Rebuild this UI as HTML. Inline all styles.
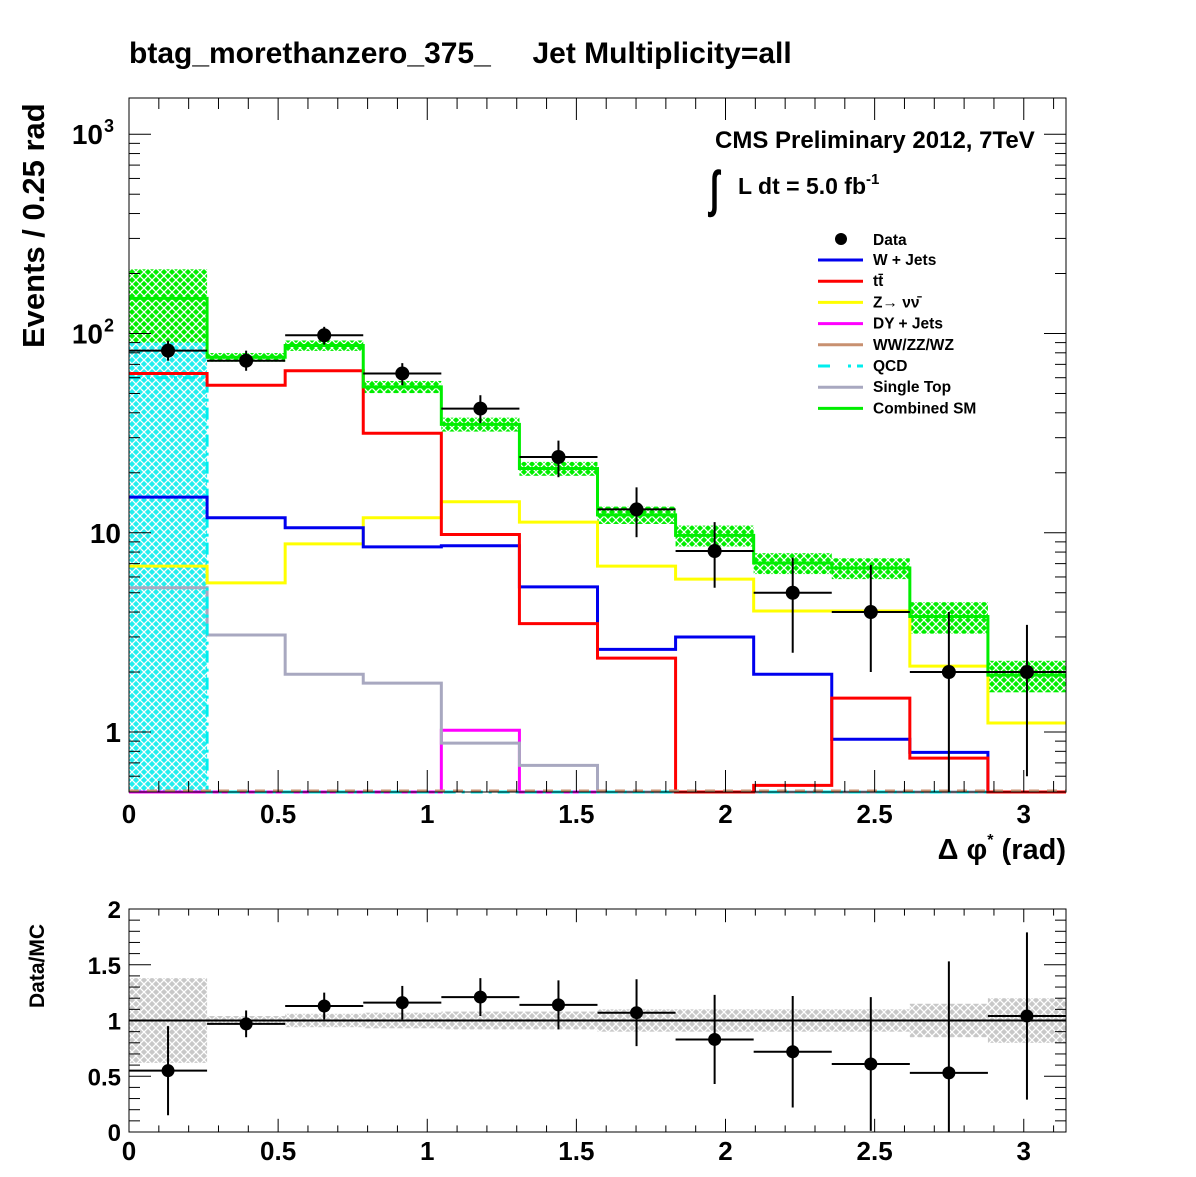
<!DOCTYPE html>
<html><head><meta charset="utf-8"><style>
body{margin:0;background:#fff}
svg text{font-family:"Liberation Sans",Arial,sans-serif;font-weight:bold}
</style></head><body>
<svg id="c" width="1196" height="1172" xmlns="http://www.w3.org/2000/svg">
<defs>
<pattern id="hg" width="8" height="8" patternUnits="userSpaceOnUse"><rect width="8" height="8" fill="#00ee00"/><path d="M0,8L8,0M-2,2L2,-2M6,10L10,6M0,0L8,8" stroke="#fff" stroke-width="1.3"/></pattern>
<pattern id="hc" width="8" height="8" patternUnits="userSpaceOnUse"><rect width="8" height="8" fill="#22eeee"/><path d="M0,8L8,0M-2,2L2,-2M6,10L10,6M0,0L8,8" stroke="#fff" stroke-width="1.3"/></pattern>
<pattern id="hgr" width="8" height="8" patternUnits="userSpaceOnUse"><rect width="8" height="8" fill="#c8c8c8"/><path d="M0,8L8,0M-2,2L2,-2M6,10L10,6M0,0L8,8" stroke="#fff" stroke-width="1.3"/></pattern>
</defs>
<text x="129" y="63" font-size="30" style="white-space:pre">btag_morethanzero_375_     Jet Multiplicity=all</text>
<g id="main"></g>
<g id="ratio"></g>
</svg>
<script>
const edges=[0,0.2618,0.5236,0.7854,1.0472,1.309,1.5708,1.8326,2.0944,2.3562,2.618,2.8798,3.1416];
const wjets=[15.1,11.9,10.6,8.5,8.6,5.35,2.6,3.0,1.95,0.92,0.79,0];
const ttbar=[63,55,65,31.6,9.8,3.5,2.35,0,0.54,1.48,0.74,0];
const znunu=[6.8,5.6,8.8,11.9,14.3,11.3,6.8,5.85,4.05,4.05,2.14,1.11];
const dyjets=[0,0,0,0,1.02,0,0,0,0,0,0,0];
const singletop=[5.3,3.07,1.95,1.76,0.88,0.68,0,0,0,0,0,0];
const qcd=[60,0,0,0,0,0,0,0,0,0,0,0];
const combined=[150,76,87,54,35,21,12.3,9.7,7.05,6.65,3.8,1.93];
const combErr=[0.4,0.05,0.06,0.07,0.08,0.08,0.1,0.12,0.12,0.12,0.18,0.18];
const qcdBandTop=[92,0,0,0,0,0,0,0,0,0,0,0];
const dataVals=[82,73,98,63,42,24,13.1,8.1,5.0,4.0,2.0,2.0];
const dataLo=[9,8,10,8,6.5,5,3.6,2.8,2.5,2.0,2.0,1.4];
const dataHi=[10,9,10,8,7,5,3.8,3.2,2.5,2.9,2.0,1.45];
const ratioVals=[0.55,0.97,1.13,1.16,1.21,1.14,1.07,0.83,0.72,0.61,0.53,1.04];
const ratioLo=[0.4,0.12,0.12,0.15,0.17,0.22,0.3,0.4,0.5,0.6,0.53,0.75];
const ratioHi=[0.4,0.12,0.12,0.15,0.17,0.22,0.3,0.4,0.5,0.6,1.0,0.75];
const ratioBand=[0.38,0.04,0.06,0.07,0.08,0.08,0.1,0.1,0.1,0.1,0.15,0.2];
const xTicks=[0,0.5,1,1.5,2,2.5,3];
const xTickLabels=["0","0.5","1","1.5","2","2.5","3"];
const ratioTicks=[0,0.5,1,1.5,2];
const ratioTickLabels=["0","0.5","1","1.5","2"];

const NS="http://www.w3.org/2000/svg";
const X0=129,X1=1066,Y0=98,Y1=792,RY0=909,RY1=1132;
const xs=v=>X0+v*(X1-X0)/3.1416;
const ymin=0.5,ymax=1520;
const ys=v=>Y1-(Math.log10(v)-Math.log10(ymin))/(Math.log10(ymax)-Math.log10(ymin))*(Y1-Y0);
const ysc=v=>v<=ymin?Y1:Math.min(Y1,ys(v));
const ry=v=>Math.max(RY0,Math.min(RY1,RY1-v*(RY1-RY0)/2));
function mk(p,t,a){const e=document.createElementNS(NS,t);for(const k in a)e.setAttribute(k,a[k]);p.appendChild(e);return e;}
const M=document.getElementById('main'),R=document.getElementById('ratio');

for(let i=0;i<12;i++){if(qcdBandTop[i]>0){const r=mk(M,'rect',{x:xs(edges[i]),y:ys(qcdBandTop[i]),width:xs(edges[i+1])-xs(edges[i]),height:Y1-ys(qcdBandTop[i]),fill:'url(#hc)'});

}}
for(let i=0;i<12;i++){const t=combined[i]*(1+combErr[i]),b=combined[i]*(1-combErr[i]);
const r=mk(M,'rect',{x:xs(edges[i]),y:ys(t),width:xs(edges[i+1])-xs(edges[i]),height:ysc(b)-ys(t),fill:'url(#hg)'});

}

function hist(vals,color,name,dash){let d='';
for(let i=0;i<12;i++){const y=ysc(vals[i]);d+=(i==0?'M':'L')+xs(edges[i])+','+y+'L'+xs(edges[i+1])+','+y;}
const p=mk(M,'path',{d:d,fill:'none',stroke:color,'stroke-width':3});if(dash)p.setAttribute('stroke-dasharray',dash);

}
hist(dyjets,'#ff00ff','dy-jets-line');
hist(singletop,'#a8a8c0','single-top-line');
hist(qcd,'#00eeee','qcd-line','12,6,3,6');
hist(znunu,'#ffff00','znunu-line');
hist(wjets,'#0000ee','wjets-line');
hist(ttbar,'#ff0000','ttbar-line');
hist(combined,'#00ee00','combined-sm-line');
{const p=mk(M,'line',{x1:X0,x2:X1,y1:Y1-1,y2:Y1-1,stroke:'#c89070','stroke-width':3,'stroke-dasharray':'10,8'});}

for(let i=0;i<12;i++){const cx=xs((edges[i]+edges[i+1])/2),cy=ys(dataVals[i]);
const g=mk(M,'g',{});


mk(g,'line',{x1:xs(edges[i]),x2:xs(edges[i+1]),y1:cy,y2:cy,stroke:'#000','stroke-width':2});
mk(g,'line',{x1:cx,x2:cx,y1:ysc(dataVals[i]-dataLo[i]),y2:ys(dataVals[i]+dataHi[i]),stroke:'#000','stroke-width':2});
mk(g,'circle',{cx:cx,cy:cy,r:7,fill:'#000'});}

mk(M,'rect',{x:X0,y:Y0,width:X1-X0,height:Y1-Y0,fill:'none',stroke:'#000','stroke-width':1});
for(let e=-1;e<=3;e++)for(let m=1;m<=9;m++){const v=m*Math.pow(10,e);if(v<ymin||v>ymax)continue;const y=ys(v),L=m==1?22:11;
mk(M,'line',{x1:X0,x2:X0+L,y1:y,y2:y,stroke:'#000'});mk(M,'line',{x1:X1,x2:X1-L,y1:y,y2:y,stroke:'#000'});}
function ytl(v,t,sup){const e=mk(M,'text',{x:X0-8,y:ys(v)+10,'font-size':28,'text-anchor':'end'});e.textContent=t;


if(sup){e.setAttribute('x',X0-26);const s=mk(M,'text',{x:X0-25,y:ys(v)-2,'font-size':18});s.textContent=sup;}}
ytl(1,'1');ytl(10,'10');ytl(100,'10','2');ytl(1000,'10','3');
for(let k=0;k<=31;k++){const v=k*0.1,x=xs(v),L=k%5==0?22:11;
mk(M,'line',{x1:x,x2:x,y1:Y1,y2:Y1-L,stroke:'#000'});mk(M,'line',{x1:x,x2:x,y1:Y0,y2:Y0+L,stroke:'#000'});
mk(R,'line',{x1:x,x2:x,y1:RY1,y2:RY1-L*0.6,stroke:'#000'});mk(R,'line',{x1:x,x2:x,y1:RY0,y2:RY0+L*0.6,stroke:'#000'});}
xTicks.forEach((v,i)=>{const t=mk(M,'text',{x:xs(v),y:Y1+31,'font-size':26,'text-anchor':'middle'});t.textContent=xTickLabels[i];


const t2=mk(R,'text',{x:xs(v),y:RY1+28,'font-size':26,'text-anchor':'middle'});t2.textContent=xTickLabels[i];

});
{const t=mk(M,'text',{x:1066,y:859,'font-size':29,'text-anchor':'end'});t.innerHTML='Δ φ<tspan dy="-14" font-size="16">*</tspan><tspan dy="14"> (rad)</tspan>';}
{const t=mk(M,'text',{x:0,y:0,'font-size':31,transform:'translate(44,348) rotate(-90)'});t.textContent='Events / 0.25 rad';}
{const t=mk(M,'text',{x:715,y:148,'font-size':24});t.textContent='CMS Preliminary 2012, 7TeV';
const t2=mk(M,'text',{x:710,y:206,'font-size':46,'font-weight':'normal',transform:'translate(710,206) scale(0.7,1.1) translate(-710,-206)'});t2.textContent='∫';
const t3=mk(M,'text',{x:738,y:194,'font-size':23});t3.innerHTML='L dt = 5.0 fb<tspan dy="-10" font-size="15">-1</tspan>';}
const legNames=['W + Jets','tt̄','Z→ νν̄','DY + Jets','WW/ZZ/WZ','QCD','Single Top','Combined SM'];
const legCols=['#0000ee','#ff0000','#ffff00','#ff00ff','#c89070','#00eeee','#a8a8c0','#00ee00'];
{const g=mk(M,'g',{});
mk(g,'circle',{cx:841,cy:239,r:6,fill:'#000'});const d=mk(g,'text',{x:873,y:245,'font-size':15.5});d.textContent='Data';
legNames.forEach((n,i)=>{const y=260+i*21.2;const l=mk(g,'line',{x1:818,x2:863,y1:y,y2:y,stroke:legCols[i],'stroke-width':3});
if(n=='QCD')l.setAttribute('stroke-dasharray','12,18,3,6');
const t=mk(g,'text',{x:873,y:y+5,'font-size':15.5});t.textContent=n;

});}

for(let i=0;i<12;i++){const r=mk(R,'rect',{x:xs(edges[i]),y:ry(1+ratioBand[i]),width:xs(edges[i+1])-xs(edges[i]),height:ry(1-ratioBand[i])-ry(1+ratioBand[i]),fill:'url(#hgr)'});

}
mk(R,'line',{x1:X0,x2:X1,y1:ry(1),y2:ry(1),stroke:'#000','stroke-width':2});
for(let i=0;i<12;i++){const cx=xs((edges[i]+edges[i+1])/2),cy=ry(ratioVals[i]);
const g=mk(R,'g',{});


mk(g,'line',{x1:xs(edges[i]),x2:xs(edges[i+1]),y1:cy,y2:cy,stroke:'#000','stroke-width':2});
mk(g,'line',{x1:cx,x2:cx,y1:ry(ratioVals[i]-ratioLo[i]),y2:ry(ratioVals[i]+ratioHi[i]),stroke:'#000','stroke-width':2});
mk(g,'circle',{cx:cx,cy:cy,r:6.5,fill:'#000'});}
mk(R,'rect',{x:X0,y:RY0,width:X1-X0,height:RY1-RY0,fill:'none',stroke:'#000'});
for(let k=0;k<=20;k++){const y=ry(k*0.1),L=k%5==0?22:11;mk(R,'line',{x1:X0,x2:X0+L,y1:y,y2:y,stroke:'#000'});mk(R,'line',{x1:X1,x2:X1-L,y1:y,y2:y,stroke:'#000'});}
ratioTicks.forEach((v,i)=>{const t=mk(R,'text',{x:X0-8,y:ry(v)+9,'font-size':24,'text-anchor':'end'});t.textContent=ratioTickLabels[i];

});
{const t=mk(R,'text',{x:0,y:0,'font-size':21,transform:'translate(44,1008) rotate(-90)'});t.textContent='Data/MC';}
</script>
</body></html>
